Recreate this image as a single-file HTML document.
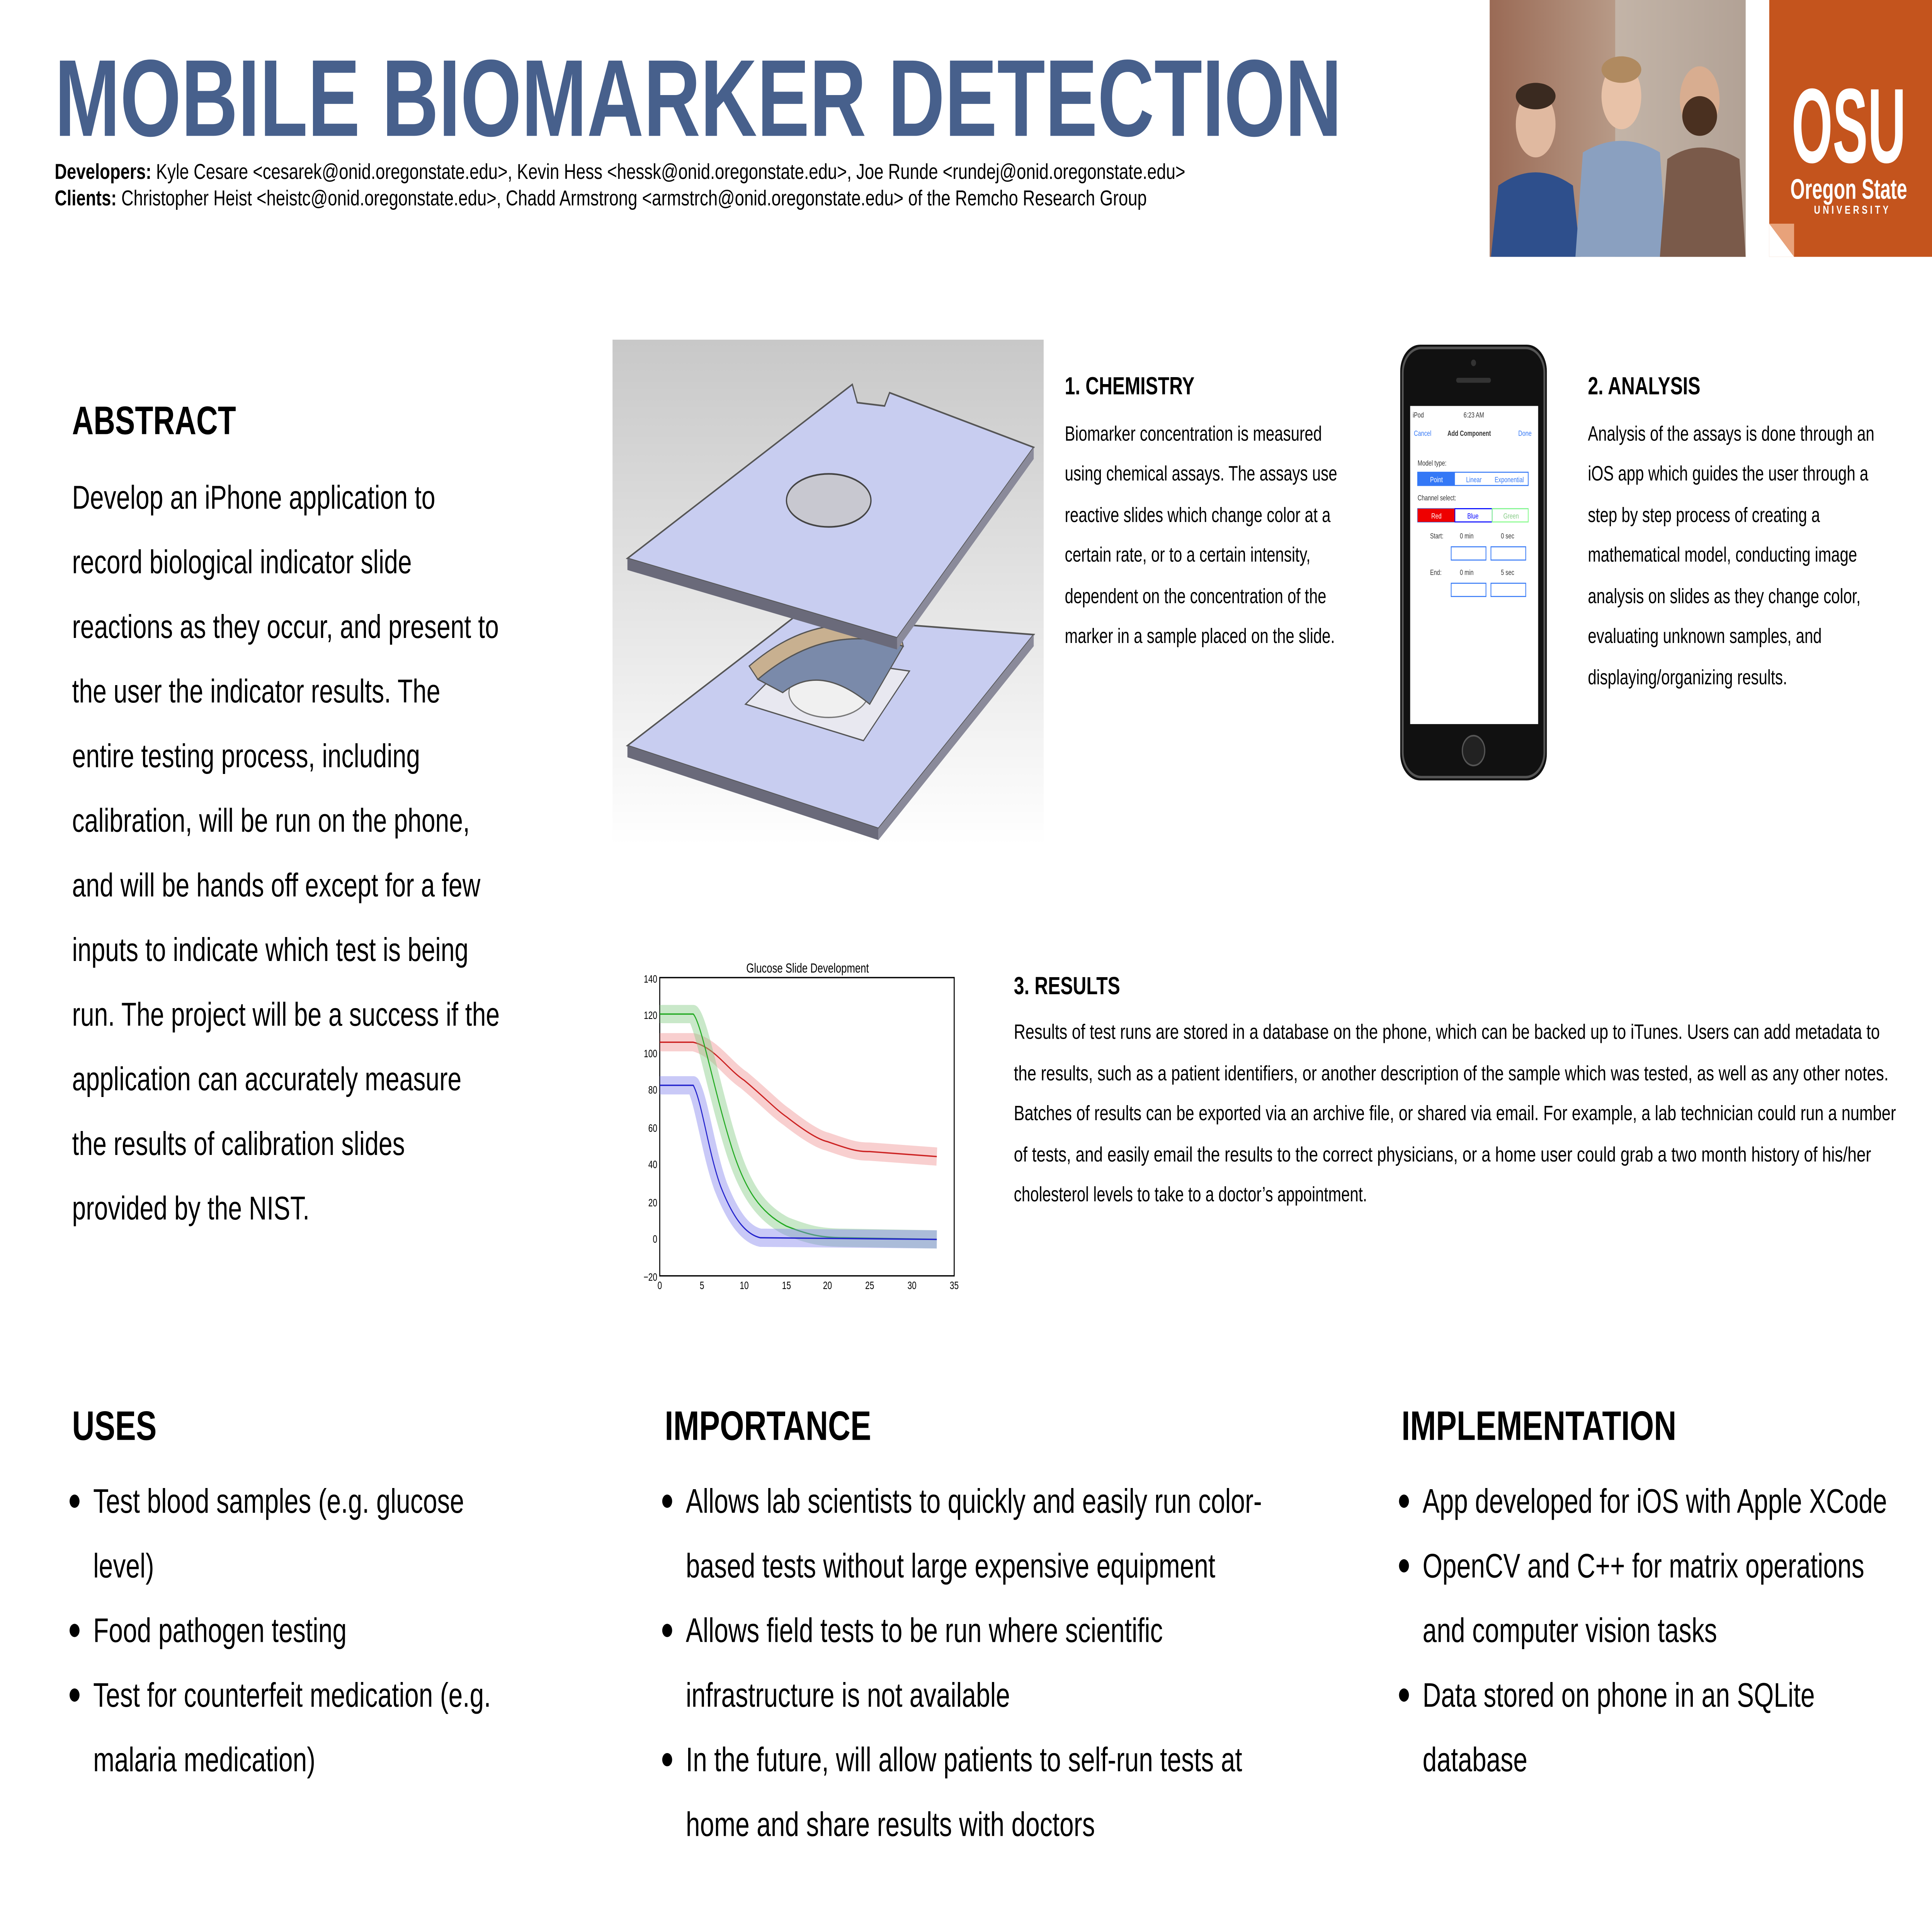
<!DOCTYPE html>
<html><head><meta charset="utf-8"><style>
html,body{margin:0;padding:0;background:#fff;width:100vw;height:100vh;overflow:hidden;}
svg{display:block;width:100vw;height:100vh;}
text{font-family:"Liberation Sans",sans-serif;}
</style></head><body>
<svg viewBox="0 0 1555 1166" preserveAspectRatio="none" xmlns="http://www.w3.org/2000/svg">
<rect width="1555" height="1166" fill="#fff"/>
<defs>
<linearGradient id="bg1" x1="0" y1="0" x2="0" y2="1"><stop offset="0" stop-color="#c8c8c8"/><stop offset="1" stop-color="#ffffff"/></linearGradient>
<linearGradient id="brick" x1="0" y1="0" x2="1" y2="0"><stop offset="0" stop-color="#9a6a55"/><stop offset="0.5" stop-color="#b89b88"/><stop offset="1" stop-color="#8f6e5c"/></linearGradient>
</defs>
<text x="44" y="82" font-size="66" font-weight="bold" fill="#47608c" textLength="1036" lengthAdjust="spacingAndGlyphs">MOBILE BIOMARKER DETECTION</text>
<text x="44" y="108" font-size="13" fill="#000" textLength="910" lengthAdjust="spacingAndGlyphs"><tspan font-weight="bold">Developers:</tspan> Kyle Cesare &lt;cesarek@onid.oregonstate.edu&gt;, Kevin Hess &lt;hessk@onid.oregonstate.edu&gt;, Joe Runde &lt;rundej@onid.oregonstate.edu&gt;</text>
<text x="44" y="124" font-size="13" fill="#000" textLength="879" lengthAdjust="spacingAndGlyphs"><tspan font-weight="bold">Clients:</tspan> Christopher Heist &lt;heistc@onid.oregonstate.edu&gt;, Chadd Armstrong &lt;armstrch@onid.oregonstate.edu&gt; of the Remcho Research Group</text>
<rect x="1199" y="0" width="206" height="155" fill="url(#brick)"/>
<rect x="1300" y="0" width="105" height="155" fill="#c9c4bd" opacity="0.6"/>
<ellipse cx="1236" cy="75" rx="16" ry="20" fill="#e0b9a0"/>
<ellipse cx="1236" cy="58" rx="16" ry="8" fill="#3a2a20"/>
<path d="M1200 155 L1206 112 Q1236 96 1266 112 L1272 155Z" fill="#2e4f8c"/>
<ellipse cx="1305" cy="58" rx="16" ry="20" fill="#e8c2a8"/>
<ellipse cx="1305" cy="42" rx="16" ry="8" fill="#b08a60"/>
<path d="M1268 155 L1274 92 Q1305 78 1336 92 L1342 155Z" fill="#8aa0c0"/>
<ellipse cx="1368" cy="60" rx="16" ry="20" fill="#d8ad90"/>
<ellipse cx="1368" cy="70" rx="14" ry="12" fill="#4a3020"/>
<path d="M1336 155 L1342 96 Q1368 82 1400 96 L1405 155Z" fill="#7a5a4a"/>
<rect x="1424" y="0" width="131" height="155" fill="#c4541d"/>
<path d="M1424 135 L1444 155 L1424 155Z" fill="#fff"/>
<path d="M1424 135 L1444 135 L1444 155Z" fill="#e8a27a"/>
<text x="1488" y="98" font-size="64" font-weight="bold" fill="#fff" text-anchor="middle" textLength="92" lengthAdjust="spacingAndGlyphs">OSU</text>
<text x="1488" y="120" font-size="17" font-weight="bold" fill="#fff" text-anchor="middle" textLength="94" lengthAdjust="spacingAndGlyphs">Oregon State</text>
<text x="1491" y="129" font-size="7" font-weight="bold" fill="#fff" text-anchor="middle" letter-spacing="2">UNIVERSITY</text>
<text x="58" y="262" font-size="24" font-weight="bold" fill="#000">ABSTRACT</text>
<g font-size="20" fill="#000">
<text x="58" y="307">Develop an iPhone application to</text>
<text x="58" y="346">record biological indicator slide</text>
<text x="58" y="385">reactions as they occur, and present to</text>
<text x="58" y="424">the user the indicator results. The</text>
<text x="58" y="463">entire testing process, including</text>
<text x="58" y="502">calibration, will be run on the phone,</text>
<text x="58" y="541">and will be hands off except for a few</text>
<text x="58" y="580">inputs to indicate which test is being</text>
<text x="58" y="619">run. The project will be a success if the</text>
<text x="58" y="658">application can accurately measure</text>
<text x="58" y="697">the results of calibration slides</text>
<text x="58" y="736">provided by the NIST.</text>
</g>
<rect x="493" y="205" width="347" height="305" fill="url(#bg1)"/>
<path d="M505 450 L640 372 L832 383 L707 500 Z" fill="#c8cdf0" stroke="#555" stroke-width="1"/>
<path d="M505 450 L707 500 L707 507 L505 457 Z" fill="#6a6a7a"/>
<path d="M707 500 L832 383 L832 390 L707 507 Z" fill="#8a8a9a"/>
<path d="M600 425 L640 395 L732 405 L695 447 Z" fill="#e8e8f0" stroke="#555" stroke-width="0.8"/>
<ellipse cx="667" cy="418" rx="32" ry="15" fill="#f0f0f0" stroke="#777" stroke-width="0.8"/>
<path d="M603 402 Q660 365 725 383 L727 390 Q665 375 610 410Z" fill="#c8b090" stroke="#555" stroke-width="0.8"/>
<path d="M610 410 Q665 375 727 390 L700 425 Q660 400 630 418Z" fill="#7a8aaa" stroke="#555" stroke-width="0.8"/>
<path d="M505 337 L686 232 L690 243 L712 245 L716 237 L832 270 L722 385 Z" fill="#c8cdf0" stroke="#555" stroke-width="1"/>
<path d="M505 337 L722 385 L722 392 L505 344 Z" fill="#6a6a7a"/>
<path d="M722 385 L832 270 L832 277 L722 392 Z" fill="#8a8a9a"/>
<ellipse cx="667" cy="302" rx="34" ry="16" fill="#c8c8d0" stroke="#444" stroke-width="1"/>
<text x="857" y="238" font-size="15" font-weight="bold">1. CHEMISTRY</text>
<g font-size="12.5">
<text x="857" y="266">Biomarker concentration is measured</text>
<text x="857" y="290">using chemical assays. The assays use</text>
<text x="857" y="315">reactive slides which change color at a</text>
<text x="857" y="339">certain rate, or to a certain intensity,</text>
<text x="857" y="364">dependent on the concentration of the</text>
<text x="857" y="388">marker in a sample placed on the slide.</text>
</g>
<rect x="1127" y="208" width="118" height="263" rx="16" fill="#111"/>
<rect x="1129" y="210" width="114" height="259" rx="15" fill="none" stroke="#555" stroke-width="1.5"/>
<rect x="1135" y="245" width="103" height="192" fill="#fff"/>
<circle cx="1186" cy="453" r="9" fill="#222" stroke="#555"/>
<rect x="1172" y="228" width="28" height="3" rx="1.5" fill="#333"/>
<circle cx="1186" cy="219" r="2" fill="#333"/>
<g font-size="4.5" fill="#333">
<text x="1137" y="252">iPod</text><text x="1178" y="252">6:23 AM</text>
<text x="1138" y="263" fill="#3478f6">Cancel</text><text x="1165" y="263" font-weight="bold">Add Component</text><text x="1222" y="263" fill="#3478f6">Done</text>
<text x="1141" y="281">Model type:</text>
<rect x="1141" y="285" width="89" height="8" fill="none" stroke="#3478f6" stroke-width="0.6"/>
<rect x="1141" y="285" width="30" height="8" fill="#3478f6"/>
<text x="1151" y="291" fill="#fff">Point</text><text x="1180" y="291" fill="#3478f6">Linear</text><text x="1203" y="291" fill="#3478f6">Exponential</text>
<text x="1141" y="302">Channel select:</text>
<rect x="1141" y="307" width="89" height="8" fill="none" stroke="#3478f6" stroke-width="0.6"/>
<rect x="1141" y="307" width="30" height="8" fill="#e00"/>
<rect x="1171" y="307" width="30" height="8" fill="none" stroke="#00f" stroke-width="0.6"/>
<rect x="1201" y="307" width="29" height="8" fill="none" stroke="#8f8" stroke-width="0.6"/>
<text x="1152" y="313" fill="#fff">Red</text><text x="1181" y="313" fill="#00f">Blue</text><text x="1210" y="313" fill="#8c8">Green</text>
<text x="1151" y="325">Start:</text><text x="1175" y="325">0 min</text><text x="1208" y="325">0 sec</text>
<rect x="1168" y="330" width="28" height="8" fill="none" stroke="#3478f6" stroke-width="0.6"/>
<rect x="1200" y="330" width="28" height="8" fill="none" stroke="#3478f6" stroke-width="0.6"/>
<text x="1151" y="347">End:</text><text x="1175" y="347">0 min</text><text x="1208" y="347">5 sec</text>
<rect x="1168" y="352" width="28" height="8" fill="none" stroke="#3478f6" stroke-width="0.6"/>
<rect x="1200" y="352" width="28" height="8" fill="none" stroke="#3478f6" stroke-width="0.6"/>
</g>
<text x="1278" y="238" font-size="15" font-weight="bold">2. ANALYSIS</text>
<g font-size="12.5">
<text x="1278" y="266">Analysis of the assays is done through an</text>
<text x="1278" y="290">iOS app which guides the user through a</text>
<text x="1278" y="315">step by step process of creating a</text>
<text x="1278" y="339">mathematical model, conducting image</text>
<text x="1278" y="364">analysis on slides as they change color,</text>
<text x="1278" y="388">evaluating unknown samples, and</text>
<text x="1278" y="413">displaying/organizing results.</text>
</g>
<text x="650" y="587" font-size="8" text-anchor="middle">Glucose Slide Development</text>
<rect x="531" y="590" width="237" height="180" fill="#fff" stroke="#000" stroke-width="0.8"/>
<g font-size="6.5" text-anchor="end">
<text x="529" y="593">140</text><text x="529" y="615">120</text><text x="529" y="638">100</text><text x="529" y="660">80</text><text x="529" y="683">60</text><text x="529" y="705">40</text><text x="529" y="728">20</text><text x="529" y="750">0</text><text x="529" y="773">−20</text>
</g>
<g font-size="6.5" text-anchor="middle">
<text x="531" y="778">0</text><text x="565" y="778">5</text><text x="599" y="778">10</text><text x="633" y="778">15</text><text x="666" y="778">20</text><text x="700" y="778">25</text><text x="734" y="778">30</text><text x="768" y="778">35</text>
</g>
<g fill="none" stroke-linejoin="round">
<path d="M531 629 L558 629 C575 632 585 645 599 652 C615 662 625 670 633 674 C650 684 660 688 666 689 C685 694 690 695 700 695 L754 698" stroke="#e88" stroke-width="11" opacity="0.4"/>
<path d="M531 629 L558 629 C575 632 585 645 599 652 C615 662 625 670 633 674 C650 684 660 688 666 689 C685 694 690 695 700 695 L754 698" stroke="#c22" stroke-width="0.8"/>
<path d="M531 612 L558 612 C565 618 575 660 590 695 C600 718 612 732 633 740 C650 745 660 747 680 747 L754 748" stroke="#8c8" stroke-width="11" opacity="0.45"/>
<path d="M531 612 L558 612 C565 618 575 660 590 695 C600 718 612 732 633 740 C650 745 660 747 680 747 L754 748" stroke="#2a2" stroke-width="0.8"/>
<path d="M531 655 L558 655 C565 665 570 695 580 716 C590 735 600 745 612 747 L754 748" stroke="#88e" stroke-width="11" opacity="0.45"/>
<path d="M531 655 L558 655 C565 665 570 695 580 716 C590 735 600 745 612 747 L754 748" stroke="#22c" stroke-width="0.8"/>
</g>
<text x="816" y="600" font-size="15" font-weight="bold">3. RESULTS</text>
<g font-size="12.5">
<text x="816" y="627" textLength="697" lengthAdjust="spacingAndGlyphs">Results of test runs are stored in a database on the phone, which can be backed up to iTunes. Users can add metadata to</text>
<text x="816" y="652" textLength="704" lengthAdjust="spacingAndGlyphs">the results, such as a patient identifiers, or another description of the sample which was tested, as well as any other notes.</text>
<text x="816" y="676" textLength="710" lengthAdjust="spacingAndGlyphs">Batches of results can be exported via an archive file, or shared via email. For example, a lab technician could run a number</text>
<text x="816" y="701" textLength="690" lengthAdjust="spacingAndGlyphs">of tests, and easily email the results to the correct physicians, or a home user could grab a two month history of his/her</text>
<text x="816" y="725">cholesterol levels to take to a doctor’s appointment.</text>
</g>
<g font-size="25" font-weight="bold">
<text x="58" y="869">USES</text>
<text x="535" y="869">IMPORTANCE</text>
<text x="1128" y="869">IMPLEMENTATION</text>
</g>
<g font-size="20.5">
<circle cx="60" cy="906" r="4"/><text x="75" y="913">Test blood samples (e.g. glucose</text>
<text x="75" y="952">level)</text>
<circle cx="60" cy="984" r="4"/><text x="75" y="991">Food pathogen testing</text>
<circle cx="60" cy="1023" r="4"/><text x="75" y="1030">Test for counterfeit medication (e.g.</text>
<text x="75" y="1069">malaria medication)</text>
<circle cx="537" cy="906" r="4"/><text x="552" y="913">Allows lab scientists to quickly and easily run color-</text>
<text x="552" y="952">based tests without large expensive equipment</text>
<circle cx="537" cy="984" r="4"/><text x="552" y="991">Allows field tests to be run where scientific</text>
<text x="552" y="1030">infrastructure is not available</text>
<circle cx="537" cy="1062" r="4"/><text x="552" y="1069">In the future, will allow patients to self-run tests at</text>
<text x="552" y="1108">home and share results with doctors</text>
<circle cx="1130" cy="906" r="4"/><text x="1145" y="913">App developed for iOS with Apple XCode</text>
<circle cx="1130" cy="945" r="4"/><text x="1145" y="952">OpenCV and C++ for matrix operations</text>
<text x="1145" y="991">and computer vision tasks</text>
<circle cx="1130" cy="1023" r="4"/><text x="1145" y="1030">Data stored on phone in an SQLite</text>
<text x="1145" y="1069">database</text>
</g>
</svg>
</body></html>
